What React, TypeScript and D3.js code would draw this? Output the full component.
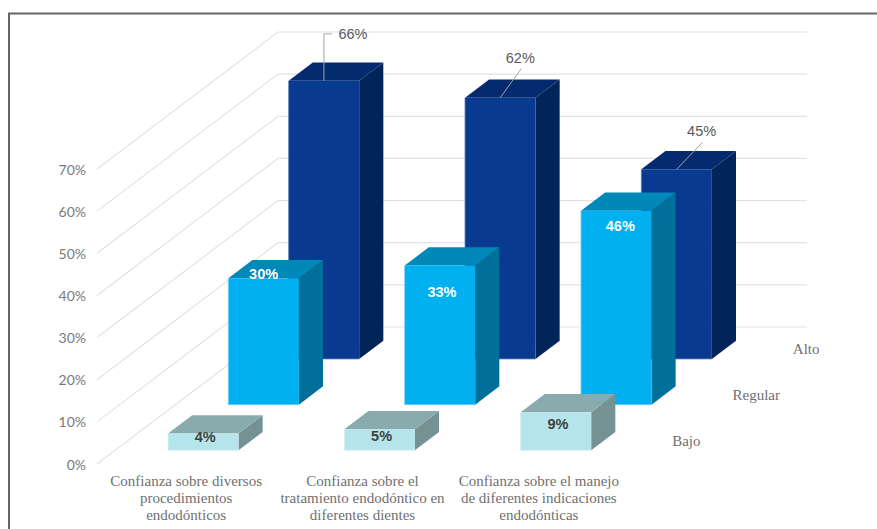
import React from "react";
import * as d3 from "d3";

const categories = [
  ["Confianza sobre diversos", "procedimientos", "endodónticos"],
  ["Confianza sobre el", "tratamiento endodóntico en", "diferentes dientes"],
  ["Confianza sobre el manejo", "de diferentes indicaciones", "endodónticas"],
];
const seriesNames = ["Bajo", "Regular", "Alto"];
const bajo = [4, 5, 9];
const regular = [30, 33, 46];
const alto = [66, 62, 45];
const seriesValues = [bajo, regular, alto];
const yTicks = [0, 10, 20, 30, 40, 50, 60, 70];

// Face colours for each series, front row first.
const faceColors = [
  { front: "#b5e5ea", top: "#8aabae", side: "#769193", edge: "#d3f1f4" },
  { front: "#00b0f0", top: "#0088b8", side: "#006f99", edge: "#6ed0f5" },
  { front: "#083b8f", top: "#042a70", side: "#022559", edge: "#5f7fb8" },
];
// Nudges for labels placed on the two nearer rows.
const labelDx = [
  [2, 2, 2],
  [0, 2, 4],
];
const labelDy = [
  [3, 7, 11],
  [-4, 26, 15],
];

const W = 877;
const H = 529;
const plotLeft = 97;
const plotWidth = 529;
const floorY = 464;
const unitHeight = 295;
const depthX = 181;
const depthY = 137;

const x = d3
  .scaleBand<number>()
  .domain(d3.range(categories.length))
  .range([plotLeft, plotLeft + plotWidth])
  .paddingInner(0.6)
  .paddingOuter(0.3);
const z = d3
  .scaleBand<number>()
  .domain(d3.range(seriesNames.length))
  .range([0, 1])
  .paddingInner(0.6)
  .paddingOuter(0.3);
const y = d3.scaleLinear().domain([0, 70]).range([floorY, floorY - unitHeight]);
const pct = (v: number) => `${v}%`;

// Oblique projection: depth d shifts a point up and to the right.
const px = (sx: number, d: number) => sx + depthX * d;
const py = (sy: number, d: number) => sy - depthY * d;
const poly = (pts: [number, number][]) => d3.line()(pts) + "Z";

const sans = "'Liberation Sans', Arial, sans-serif";
const tickFont = "Lato, sans-serif";
const serif = "'Liberation Serif', 'Times New Roman', serif";

function Bar({ c, s }: { c: number; s: number }) {
  const v = seriesValues[s][c];
  const col = faceColors[s];
  const x0 = x(c)!;
  const x1 = x0 + x.bandwidth();
  const d0 = z(s)!;
  const d1 = d0 + z.bandwidth();
  const yb = y(0);
  const yt = y(v);
  const P = (sx: number, sy: number, d: number): [number, number] => [px(sx, d), py(sy, d)];
  return (
    <g>
      <path
        d={poly([P(x1, yb, d0), P(x1, yb, d1), P(x1, yt, d1), P(x1, yt, d0)])}
        fill={col.side}
      />
      <path
        d={poly([P(x0, yt, d0), P(x1, yt, d0), P(x1, yt, d1), P(x0, yt, d1)])}
        fill={col.top}
      />
      <path
        d={poly([P(x0, yb, d0), P(x1, yb, d0), P(x1, yt, d0), P(x0, yt, d0)])}
        fill={col.front}
      />
      {/* Pale rim along the bottom and left of the front face */}
      <path
        d={d3.line()([P(x0, yt, d0), P(x0, yb, d0), P(x1, yb, d0)])!}
        fill="none"
        stroke={col.edge}
        strokeWidth={0.8}
      />
    </g>
  );
}

export default function App() {
  const frontCx = (c: number) => x(c)! + x.bandwidth() / 2;
  const altoD = z(2)!;
  const altoTop = (c: number): [number, number] => [
    px(frontCx(c), altoD),
    py(y(alto[c]), altoD),
  ];

  return (
    <svg
      width={W}
      height={H}
      viewBox={`0 0 ${W} ${H}`}
      style={{ position: "absolute", left: 0, top: 0, display: "block", background: "#fff" }}
    >
      {/* Frame: runs past the right and bottom edges of the canvas */}
      <rect x={9} y={13.5} width={W + 20} height={H + 20} fill="none" stroke="#666" strokeWidth={2} />

      {/* Side wall and back wall gridlines */}
      {yTicks.map((t) => (
        <path
          key={t}
          stroke="#e3e3e3"
          strokeWidth={1.2}
          fill="none"
          d={d3.line()([[plotLeft, y(t)], [px(plotLeft, 1), py(y(t), 1)], [px(plotLeft + plotWidth, 1), py(y(t), 1)]])!}
        />
      ))}

      {/* Value axis labels */}
      {yTicks.map((t) => (
        <text
          key={t}
          x={86}
          y={y(t) + 0.5}
          dy="0.36em"
          textAnchor="end"
          fontFamily={tickFont}
          fontSize={14}
          fill="#7a7a7a"
        >
          {pct(t)}
        </text>
      ))}

      {/* Bars drawn from the back row to the front row */}
      {[2, 1, 0].map((s) =>
        categories.map((_, c) => <Bar key={`${s}-${c}`} c={c} s={s} />)
      )}

      {/* Leader lines for the rear row */}
      <g stroke="#a6a6a6" strokeWidth={1} fill="none">
        <path d={d3.line()([altoTop(0), [altoTop(0)[0], altoTop(0)[1] - 47], [altoTop(0)[0] + 8, altoTop(0)[1] - 47]])!} />
        <path d={d3.line()([altoTop(1), [altoTop(1)[0] + 21, altoTop(1)[1] - 29]])!} />
        <path d={d3.line()([altoTop(2), [altoTop(2)[0] + 26, altoTop(2)[1] - 27]])!} />
      </g>
      {alto.map((v, c) => {
        const [ax, ay] = altoTop(c);
        const off: [number, number][] = [[29, -47], [20, -40], [25, -39]];
        return (
          <text
            key={c}
            x={ax + off[c][0]}
            y={ay + off[c][1]}
            dy="0.36em"
            textAnchor="middle"
            fontFamily={sans}
            fontSize={14.5}
            fill="#595959"
          >
            {pct(v)}
          </text>
        );
      })}

      {/* Labels sitting on the two nearer rows */}
      {[0, 1].map((s) =>
        seriesValues[s].map((v, c) => (
          <text
            key={`${s}-${c}`}
            x={px(frontCx(c), z(s)!) + labelDx[s][c]}
            y={py(y(v), z(s)!) + labelDy[s][c]}
            dy="0.36em"
            textAnchor="middle"
            fontFamily={sans}
            fontSize={14.5}
            fontWeight={700}
            fill={s === 0 ? "#404040" : "#ffffff"}
          >
            {pct(v)}
          </text>
        ))
      )}

      {/* Category labels */}
      {categories.map((lines, c) => (
        <text
          key={c}
          textAnchor="middle"
          fontFamily={serif}
          fontSize={15}
          fill="#707070"
        >
          {lines.map((l, i) => (
            <tspan key={i} x={frontCx(c) + 1} y={486 + i * 17}>
              {l}
            </tspan>
          ))}
        </text>
      ))}

      {/* Depth axis labels */}
      {seriesNames.map((n, s) => (
        <text
          key={n}
          x={px(plotLeft + plotWidth, z(s)! + z.bandwidth() / 2) + 16}
          y={py(floorY, z(s)! + z.bandwidth() / 2) - 1}
          dy="0.36em"
          fontFamily={serif}
          fontSize={15}
          fill="#707070"
        >
          {n}
        </text>
      ))}
    </svg>
  );
}
